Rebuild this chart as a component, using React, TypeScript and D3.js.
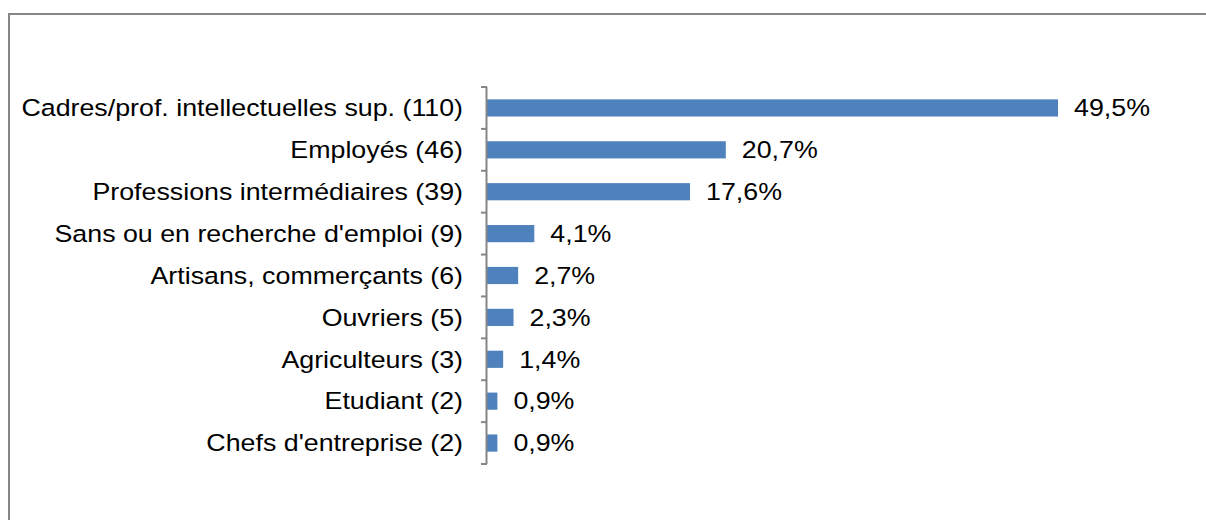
import React from "react";
import * as d3 from "d3";

const categories = [
  "Cadres/prof. intellectuelles sup. (110)",
  "Employés (46)",
  "Professions intermédiaires (39)",
  "Sans ou en recherche d'emploi (9)",
  "Artisans, commerçants (6)",
  "Ouvriers (5)",
  "Agriculteurs (3)",
  "Etudiant (2)",
  "Chefs d'entreprise (2)",
];
const values = [49.5, 20.7, 17.6, 4.1, 2.7, 2.3, 1.4, 0.9, 0.9];
const valueLabels = ["49,5%", "20,7%", "17,6%", "4,1%", "2,7%", "2,3%", "1,4%", "0,9%", "0,9%"];

const W = 1206;
const H = 520;
const axisX = 487;
const top = 87;
const bottom = 464;
const font = "'Liberation Sans', Arial, sans-serif";
const fs = 23.5;
const sx = 1.14;

export default function App() {
  const x = d3.scaleLinear().domain([0, 50]).range([axisX, axisX + 576.8]);
  const y = d3
    .scaleBand<string>()
    .domain(categories)
    .range([top, bottom])
    .paddingInner(0.59)
    .paddingOuter(0.295);
  const step = y.step();
  const tickYs = d3.range(categories.length + 1).map((i) => top + i * step);

  return (
    <svg
      width={W}
      height={H}
      style={{ position: "absolute", left: 0, top: 0, background: "#fff" }}
      fontFamily={font}
    >
      <rect x={9} y={14} width={W + 10} height={H + 10} fill="#fff" stroke="#868686" strokeWidth={2} />
      {categories.map((c, i) => {
        const cy = y(c)! + y.bandwidth() / 2;
        return (
          <g key={c}>
            <rect
              x={x(0)}
              y={y(c)!}
              width={x(values[i]) - x(0)}
              height={y.bandwidth()}
              fill="#4F81BD"
            />
            <text
              transform={`translate(${axisX - 24},${cy}) scale(${sx},1)`}
              dy="0.35em"
              textAnchor="end"
              fontSize={fs}
              fill="#000"
            >
              {c}
            </text>
            <text
              transform={`translate(${x(values[i]) + 16},${cy}) scale(${sx},1)`}
              dy="0.35em"
              textAnchor="start"
              fontSize={fs}
              fill="#000"
            >
              {valueLabels[i]}
            </text>
          </g>
        );
      })}
      <line x1={axisX - 0.5} x2={axisX - 0.5} y1={top} y2={bottom} stroke="#868686" strokeWidth={2} />
      {tickYs.map((t, i) => (
        <line key={i} x1={axisX - 6} x2={axisX} y1={t} y2={t} stroke="#868686" strokeWidth={2} />
      ))}
    </svg>
  );
}
